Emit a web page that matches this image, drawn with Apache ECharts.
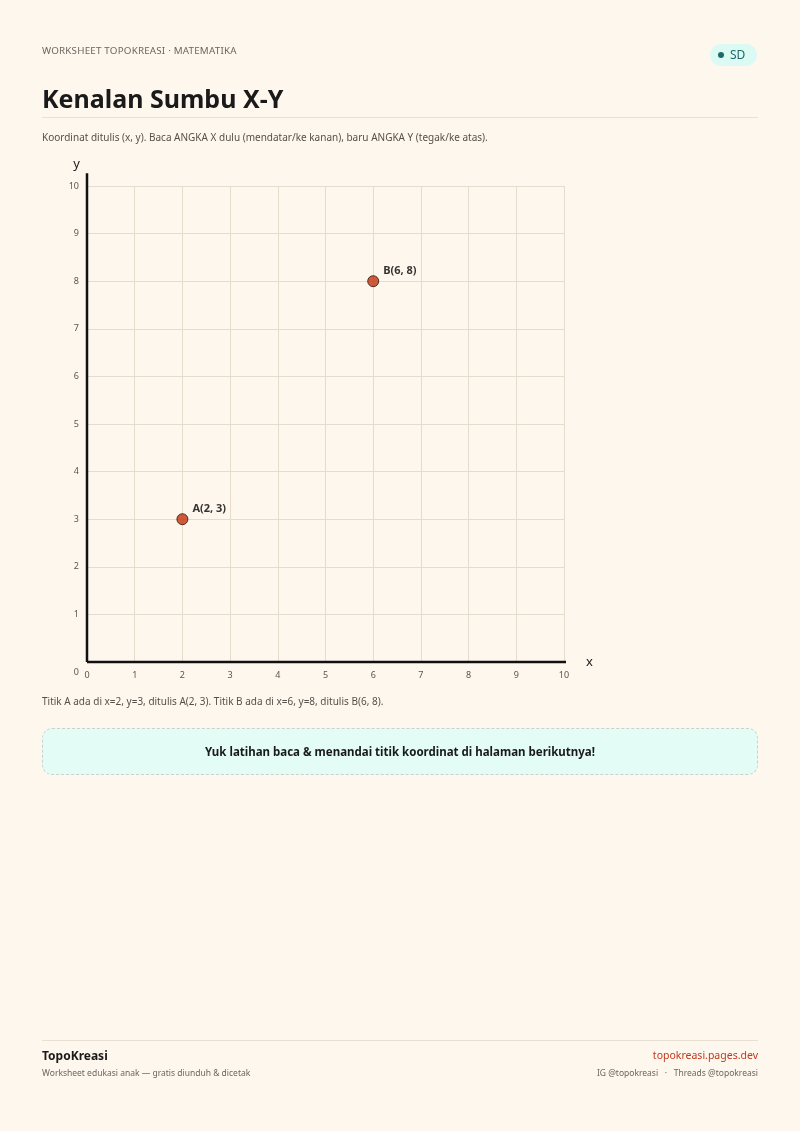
<!doctype html>
<html>
	<head>
		<meta charset="utf-8">
		<title>Kenalan Sumbu X-Y</title>
		<script src="https://cdn.jsdelivr.net/npm/echarts@6/dist/echarts.min.js"></script>
		<style>
			html, body { margin: 0; padding: 0; background: #fef7ee; }
			body { width: 800px; height: 1131px; position: relative; font-family: "Noto Sans", sans-serif; color: #1a1a1a; overflow: hidden; }
			#chart { position: absolute; left: 0; top: 0; width: 800px; height: 1131px; }
			.abs { position: absolute; }
			.kicker { left: 42px; top: 44px; font-size: 9.8px; color: #6b6660; letter-spacing: 0.2px; }
			.badge { left: 710px; top: 44px; width: 47px; height: 22px; border-radius: 11px; background: #dcfaf4; color: #1d6a6a; font-size: 12px; line-height: 22px; box-sizing: border-box; padding-left: 8px; }
			.badge i { display: inline-block; width: 6px; height: 6px; border-radius: 3px; background: #1d6a6a; margin-right: 6px; vertical-align: 1px; }
			h1 { position: absolute; left: 42px; top: 80px; margin: 0; font-size: 25px; font-weight: 700; line-height: 36px; }
			.rule { left: 42px; width: 716px; height: 1px; background: #e9e0d4; }
			.sub { left: 42px; top: 130px; font-size: 10px; color: #55504a; }
			.cap { left: 42px; top: 694px; font-size: 10px; color: #55504a; }
			.note { left: 42px; top: 728px; width: 716px; height: 47px; box-sizing: border-box; border: 1px dashed #cfcfca; border-radius: 10px; background: #e4fcf6; text-align: center; line-height: 45px; font-size: 11.5px; font-weight: 700; }
			.brand { left: 42px; top: 1047px; font-size: 12px; font-weight: 700; }
			.tag { left: 42px; top: 1067px; font-size: 8.5px; color: #6b6660; }
			.site { right: 42px; top: 1048px; font-size: 10.5px; color: #c0391b; }
			.social { right: 42px; top: 1067px; font-size: 8.5px; color: #6b6660; }
		</style>
	</head>
	<body>
		<div id="chart"></div>

		<div class="abs kicker">WORKSHEET TOPOKREASI · MATEMATIKA</div>
		<div class="abs badge"><i></i>SD</div>
		<h1>Kenalan Sumbu X-Y</h1>
		<div class="abs rule" style="top:117px"></div>
		<div class="abs sub">Koordinat ditulis (x, y). Baca ANGKA X dulu (mendatar/ke kanan), baru ANGKA Y (tegak/ke atas).</div>
		<div class="abs cap">Titik A ada di x=2, y=3, ditulis A(2, 3). Titik B ada di x=6, y=8, ditulis B(6, 8).</div>
		<div class="abs note">Yuk latihan baca &amp; menandai titik koordinat di halaman berikutnya!</div>
		<div class="abs rule" style="top:1040px"></div>
		<div class="abs brand">TopoKreasi</div>
		<div class="abs tag">Worksheet edukasi anak — gratis diunduh &amp; dicetak</div>
		<div class="abs site">topokreasi.pages.dev</div>
		<div class="abs social">IG @topokreasi &nbsp; · &nbsp; Threads @topokreasi</div>

		<script>
			// points on the plane
			const pointNames = ["A", "B"];
			const pointX = [2, 6];
			const pointY = [3, 8];

			// axis range and where the drawn axis lines stop
			const axisMin = 0;
			const axisMax = 10;
			const xLineEnd = 10.2;
			const yLineEnd = 10.27;

			const points = pointNames.map((n, i) => ({
				name: n,
				value: [pointX[i], pointY[i]]
			}));

			let chart = echarts.init(document.getElementById("chart"), null, {
				width: 800,
				height: 1131
			});

			const lbl = { color: "#5a5550", fontSize: 9, fontFamily: "Noto Sans" };
			const grid = { lineStyle: { color: "#e6dccd", width: 1 } };

			chart.setOption({
				animation: false,
				backgroundColor: "transparent",
				grid: { left: 87, right: 236, top: 186, bottom: 469 },
				xAxis: {
					type: "value",
					min: axisMin,
					max: axisMax,
					interval: 1,
					name: "x",
					nameLocation: "end",
					nameGap: 22,
					nameTextStyle: { color: "#1a1a1a", fontSize: 13, fontFamily: "Noto Sans", verticalAlign: "middle", padding: [4, 0, 0, 0] },
					axisLine: { show: false },
					axisTick: { show: false },
					axisLabel: Object.assign({ margin: 9 }, lbl),
					splitLine: grid
				},
				yAxis: {
					type: "value",
					min: axisMin,
					max: axisMax,
					interval: 1,
					name: "y",
					nameLocation: "end",
					nameGap: 15,
					nameTextStyle: { color: "#1a1a1a", fontSize: 13, fontFamily: "Noto Sans", align: "right", padding: [0, 7, 0, 0] },
					axisLine: { show: false },
					axisTick: { show: false },
					axisLabel: Object.assign({
						margin: 8,
						formatter: v => v === axisMin ? "{z|" + v + "}" : String(v),
						rich: { z: { color: "#5a5550", fontSize: 9, fontFamily: "Noto Sans", padding: [20, 0, 0, 0] } }
					}, lbl),
					splitLine: grid
				},
				series: [
					{
						type: "line",
						clip: false,
						silent: true,
						symbol: "none",
						lineStyle: { color: "#111", width: 2.5 },
						data: [[axisMin, axisMin], [xLineEnd, axisMin]],
						z: 3
					},
					{
						type: "line",
						clip: false,
						silent: true,
						symbol: "none",
						lineStyle: { color: "#111", width: 2.5 },
						data: [[axisMin, axisMin], [axisMin, yLineEnd]],
						z: 3
					},
					{
						type: "scatter",
						symbolSize: 11,
						itemStyle: { color: "#c4330c", borderColor: "#2e1005", borderWidth: 1 },
						label: {
							show: true,
							position: "right",
							distance: 4,
							offset: [0, -10],
							formatter: p => `${p.name}(${p.value[0]}, ${p.value[1]})`,
							color: "#000",
							fontSize: 11,
							fontWeight: "bold",
							fontFamily: "Noto Sans"
						},
						data: points,
						z: 5
					}
				]
			});
		</script>
	</body>
</html>
